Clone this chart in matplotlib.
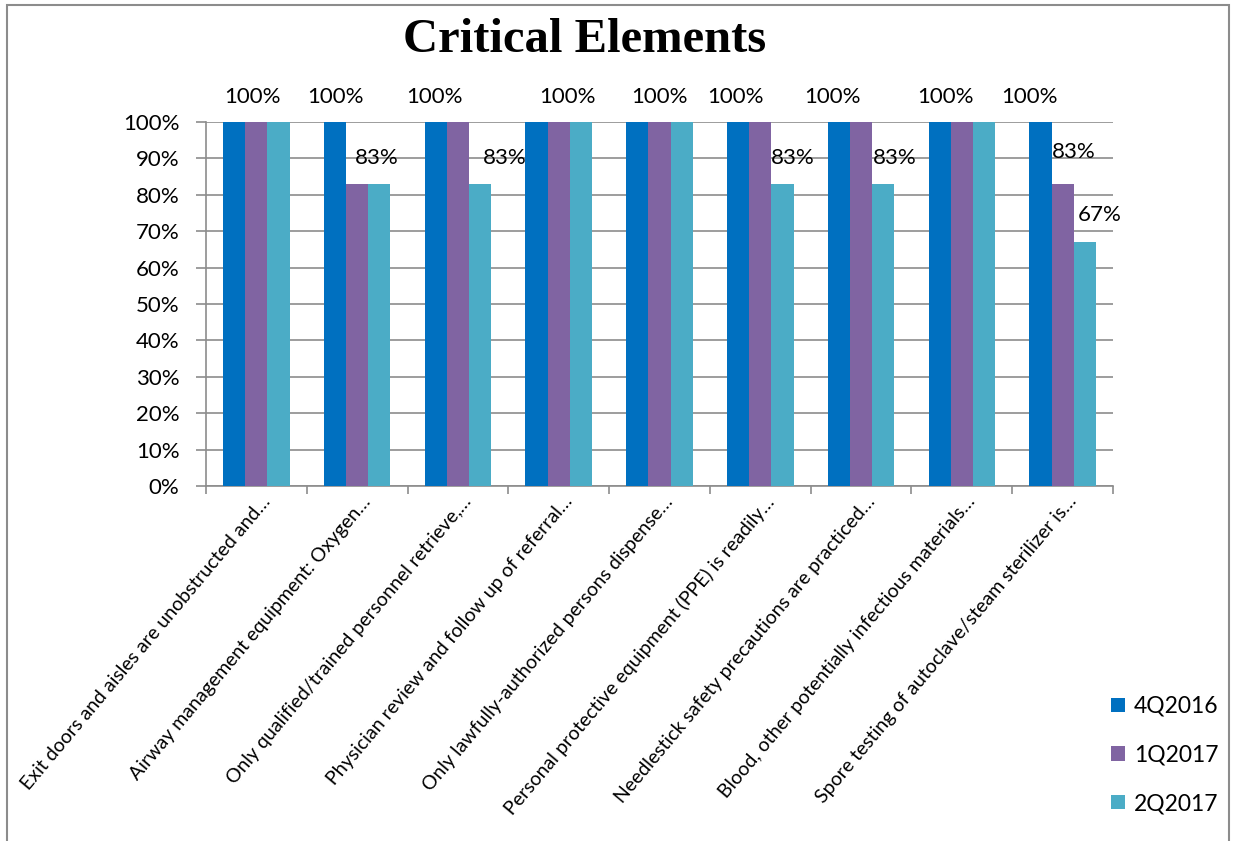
import matplotlib
matplotlib.use("Agg")
import matplotlib.pyplot as plt
import matplotlib.transforms as mtransforms
from matplotlib.patches import Rectangle
import numpy as np

categories = [
    "Exit doors and aisles are unobstructed and…",
    "Airway management equipment: Oxygen…",
    "Only qualified/trained personnel retrieve,…",
    "Physician review and follow up of referral…",
    "Only lawfully-authorized persons dispense…",
    "Personal protective equipment (PPE) is readily…",
    "Needlestick safety precautions are practiced…",
    "Blood, other potentially infectious materials…",
    "Spore testing of autoclave/steam sterilizer is…",
]
series_names = ["4Q2016", "1Q2017", "2Q2017"]
q4_2016 = [1.00, 1.00, 1.00, 1.00, 1.00, 1.00, 1.00, 1.00, 1.00]
q1_2017 = [1.00, 0.83, 1.00, 1.00, 1.00, 1.00, 1.00, 1.00, 0.83]
q2_2017 = [1.00, 0.83, 0.83, 1.00, 1.00, 0.83, 0.83, 1.00, 0.67]
yticks = [0.0, 0.1, 0.2, 0.3, 0.4, 0.5, 0.6, 0.7, 0.8, 0.9, 1.0]
ytick_labels = ["0%", "10%", "20%", "30%", "40%", "50%", "60%", "70%", "80%", "90%", "100%"]

# data labels shown: (category, series index)
label_points = [(0, 0), (1, 0), (1, 2), (2, 0), (2, 2), (3, 0), (4, 0), (5, 0), (5, 2),
                (6, 0), (6, 2), (7, 0), (8, 0), (8, 1), (8, 2)]
# label placement (x offset from category, y position)
label_layout = [(-0.04, 1.069), (-0.22, 1.069), (0.19, 0.901), (-0.23, 1.069), (0.46, 0.901),
                (0.09, 1.069), (0.00, 1.069), (-0.25, 1.069), (0.32, 0.901),
                (-0.28, 1.069), (0.33, 0.901), (-0.16, 1.069), (-0.33, 1.069), (0.11, 0.918),
                (0.37, 0.745)]

colors = ["#0070C0", "#8064A2", "#4BACC6"]
FONT = ["Lato", "DejaVu Sans"]
plt.rcParams["font.family"] = FONT

fig = plt.figure(figsize=(12.35, 8.41), dpi=100)
ax = fig.add_axes([206 / 1235, 1 - 486 / 841, (1113 - 206) / 1235, (486 - 122) / 841])

series = [q4_2016, q1_2017, q2_2017]
x = np.arange(len(categories))
w = 0.22
for i, (vals, name, c) in enumerate(zip(series, series_names, colors)):
    ax.bar(x + (i - 1) * w, vals, width=w, color=c, label=name, zorder=3)

for (ci, si), (dx, yy) in zip(label_points, label_layout):
    v = series[si][ci]
    ax.text(ci + dx, yy, f"{round(v * 100):d}%", ha="center", va="center",
            fontsize=16, color="black", clip_on=False, zorder=5)

ax.set_xlim(-0.5, len(categories) - 0.5)
ax.set_ylim(0, 1.0)
ax.set_yticks(yticks)
ax.set_yticklabels(ytick_labels, fontsize=16)
ax.yaxis.grid(True, color="#8C8C8C", linewidth=1.2, zorder=0)
ax.set_axisbelow(True)

ax.set_xticks(np.arange(len(categories) + 1) - 0.5)
ax.set_xticklabels([])
ax.set_xticks(x, minor=True)
ax.set_xticklabels(categories, minor=True, rotation=50, ha="right",
                   rotation_mode="anchor", fontsize=14)
ax.tick_params(axis="x", which="minor", length=0, pad=0)
ax.tick_params(axis="x", which="major", length=6, color="#8C8C8C", width=1.2)
ax.tick_params(axis="y", length=7, color="#8C8C8C", width=1.2, pad=12)
offset = mtransforms.ScaledTranslation(4 / 100, -7 / 100, fig.dpi_scale_trans)
for lbl in ax.get_xticklabels(minor=True):
    lbl.set_transform(lbl.get_transform() + offset)

for s in ["top", "right"]:
    ax.spines[s].set_visible(False)
for s in ["left", "bottom"]:
    ax.spines[s].set_color("#8C8C8C")
    ax.spines[s].set_linewidth(1.2)

fig.text(585 / 1235, 1 - 40 / 841, "Critical Elements", ha="center", va="center",
         fontsize=35, fontweight="bold", family=["Liberation Serif", "DejaVu Serif"])

handles, labels = ax.get_legend_handles_labels()
fig.legend(handles, labels, loc="center left", bbox_to_anchor=(1102 / 1235, 1 - 755 / 841),
           frameon=False, fontsize=16.5, handlelength=0.6, handleheight=0.6,
           labelspacing=1.2, handletextpad=0.4, borderaxespad=0)

fig.patches.append(Rectangle((7 / 1235, -0.02), (1229 - 7) / 1235, 1.02 - 5 / 841,
                             transform=fig.transFigure, fill=False, edgecolor="#8C8C8C",
                             linewidth=1.5))

fig.savefig("out.png", dpi=100, facecolor="white")
